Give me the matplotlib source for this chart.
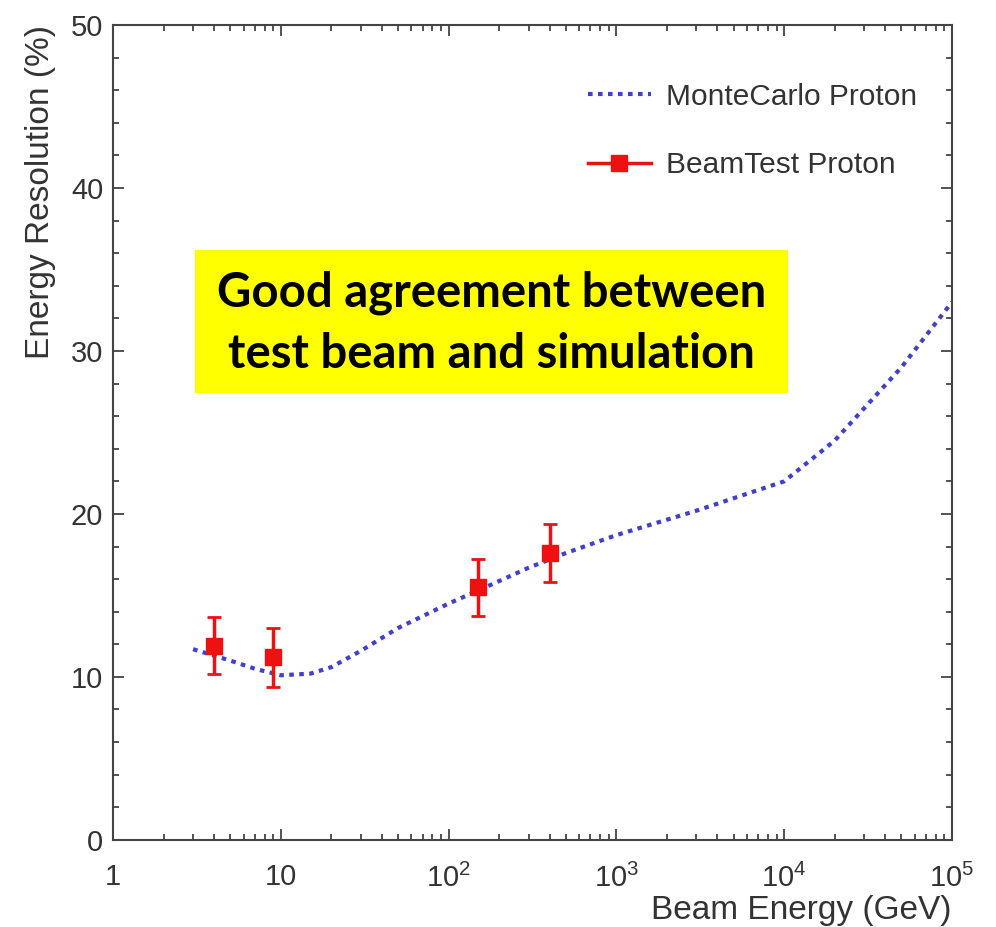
import numpy as np
import matplotlib.pyplot as plt
from matplotlib.lines import Line2D
from matplotlib.patches import Rectangle
from matplotlib.ticker import FixedLocator, FixedFormatter, MultipleLocator, LogLocator, NullFormatter

# Monte Carlo curve
mc_energy = [3, 5, 7, 10, 15, 20, 30, 50, 100, 150, 300, 500, 1000, 3000, 10000, 20000, 50000, 100000]
mc_res = [11.7, 11.0, 10.5, 10.1, 10.2, 10.6, 11.6, 13.0, 14.5, 15.3, 16.7, 17.6, 18.7, 20.2, 22.0, 24.5, 29.0, 33.0]

# beam test points
bt_energy = [4, 9, 150, 400]
bt_res = [11.9, 11.2, 15.5, 17.6]
bt_err = [1.75, 1.8, 1.75, 1.8]

xtick_vals = [1, 10, 1e2, 1e3, 1e4, 1e5]
xtick_labels = ['1', '10', r'$\mathregular{10^2}$', r'$\mathregular{10^3}$',
                r'$\mathregular{10^4}$', r'$\mathregular{10^5}$']

plt.rcParams['font.family'] = ['Liberation Sans', 'DejaVu Sans']
grey = '#444444'
txt = '#333333'
mc_col = '#4040cc'
bt_col = '#ee1111'

fig = plt.figure(figsize=(9.96, 9.27), dpi=100)
ax = fig.add_axes([0.1135, 0.094, 0.8423, 0.879])

ax.plot(mc_energy, mc_res, color=mc_col, lw=3.0, linestyle=(0, (1.1, 1.3)))
ax.errorbar(bt_energy, bt_res, yerr=bt_err, color=bt_col, marker='s', ms=12,
            lw=2.5, capsize=5, capthick=2, linestyle='none')

ax.set_xscale('log')
ax.set_xlim(1, 1e5)
ax.set_ylim(0, 50)

ax.xaxis.set_major_locator(FixedLocator(xtick_vals))
ax.xaxis.set_major_formatter(FixedFormatter(xtick_labels))
ax.xaxis.set_minor_locator(LogLocator(base=10, subs=np.arange(2, 10)))
ax.xaxis.set_minor_formatter(NullFormatter())
ax.yaxis.set_major_locator(MultipleLocator(10))
ax.yaxis.set_minor_locator(MultipleLocator(2))

ax.tick_params(which='both', direction='in', top=True, right=True, colors=grey,
               labelcolor=txt, labelsize=21, width=1.3)
ax.tick_params(which='major', length=8)
ax.tick_params(which='minor', length=4)
ax.tick_params(axis='y', pad=7)
ax.tick_params(axis='x', pad=17)
for s in ax.spines.values():
    s.set_color(grey)
    s.set_linewidth(1.5)

ax.set_xlabel('Beam Energy (GeV)', fontsize=24, color=txt, loc='right', labelpad=2)
ax.set_ylabel('Energy Resolution (%)', fontsize=24, color=txt, loc='top', labelpad=11)

handles = [Line2D([], [], color=mc_col, lw=3.0, linestyle=(0, (1.1, 1.3))),
           Line2D([], [], color=bt_col, lw=2.5, marker='s', ms=12)]
labels = ['MonteCarlo Proton', 'BeamTest Proton']
ax.legend(handles, labels, loc='upper left', bbox_to_anchor=(0.566, 0.929),
          frameon=False, fontsize=21.5, labelcolor=txt, handlelength=2.1,
          labelspacing=1.35, handletextpad=0.5, borderaxespad=0, borderpad=0)

# yellow note box
ax.add_patch(Rectangle((0.0977, 0.5485), 0.7068, 0.1755, transform=ax.transAxes,
                       facecolor='#ffff00', edgecolor='none', zorder=3))
ax.text(0.4512, 0.634, 'Good agreement between\ntest beam and simulation',
        transform=ax.transAxes, ha='center', va='center', fontsize=34,
        fontweight='bold', family=['Lato', 'DejaVu Sans'], color='black',
        linespacing=1.45, zorder=4)

fig.savefig('out.png', dpi=100)
